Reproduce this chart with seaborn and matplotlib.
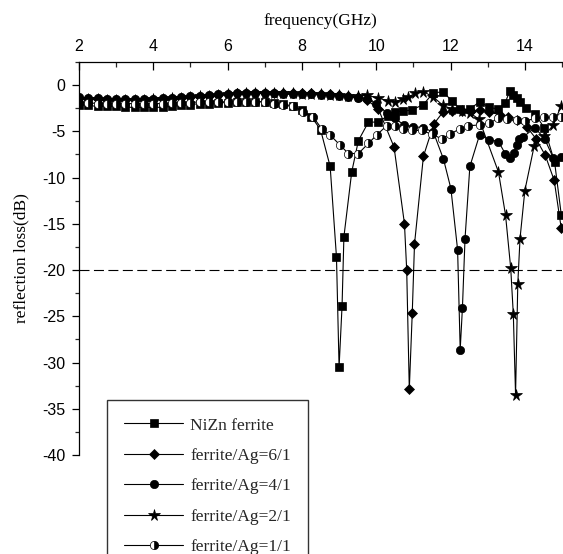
import matplotlib
matplotlib.use("Agg")
import matplotlib.pyplot as plt
from matplotlib.ticker import MultipleLocator
import seaborn as sns

sns.set_theme(style="white")
plt.rcParams['font.family'] = ['Liberation Sans', 'DejaVu Sans']
plt.rcParams['axes.unicode_minus'] = False

# reflection loss (dB) vs frequency (GHz)
low_f = [2.0, 2.25, 2.5, 2.75, 3.0, 3.25, 3.5, 3.75, 4.0, 4.25, 4.5, 4.75, 5.0,
         5.25, 5.5, 5.75, 6.0, 6.25, 6.5, 6.75, 7.0, 7.25, 7.5, 7.75]

nizn_f = low_f + [8.0, 8.25, 8.5, 8.76, 8.93, 9.0, 9.08, 9.13, 9.34, 9.52, 9.79,
                  10.06, 10.31, 10.51, 10.73, 10.95, 11.27, 11.54, 11.81, 12.03,
                  12.26, 12.52, 12.78, 13.04, 13.29, 13.47, 13.6, 13.69, 13.78,
                  13.87, 14.03, 14.27, 14.52, 14.8, 14.98]
nizn_rl = [-2.1, -2.2, -2.3, -2.3, -2.3, -2.4, -2.4, -2.4, -2.4, -2.4, -2.3, -2.2,
           -2.1, -2.0, -2.0, -1.9, -1.9, -1.8, -1.8, -1.8, -1.8, -1.9, -2.0, -2.3,
           -2.7, -3.4, -4.8, -8.8, -18.6, -30.5, -23.9, -16.4, -9.4, -6.0, -4.0,
           -4.0, -3.3, -2.9, -2.8, -2.7, -2.1, -0.8, -0.75, -1.7,
           -2.6, -2.6, -1.8, -2.4, -2.6, -1.9, -0.6, -1.1, -1.4,
           -1.8, -2.5, -3.1, -4.6, -8.3, -14.0]

ag6_f = low_f + [8.0, 8.25, 8.5, 8.75, 9.0, 9.25, 9.5, 9.75, 10.06, 10.48, 10.76,
                 10.82, 10.89, 10.97, 11.03, 11.27, 11.55, 11.8, 12.05, 12.3, 12.55,
                 12.79, 13.04, 13.33, 13.55, 13.78, 14.05, 14.3, 14.55, 14.79, 14.98]
ag6_rl = [-1.4, -1.5, -1.5, -1.6, -1.6, -1.6, -1.6, -1.6, -1.6, -1.5, -1.5, -1.4,
          -1.3, -1.3, -1.2, -1.1, -1.0, -0.9, -0.9, -0.8, -0.8, -0.8, -0.9, -0.9,
          -0.9, -0.9, -1.0, -1.0, -1.1, -1.2, -1.3, -1.6, -2.6, -6.7, -15.0,
          -20.0, -32.9, -24.6, -17.2, -7.7, -4.2, -2.9, -2.8, -2.8, -2.8,
          -2.7, -2.9, -3.2, -3.5, -3.8, -4.5, -5.8, -7.6, -10.3, -15.5]

ag4_f = low_f + [8.0, 8.25, 8.5, 8.75, 9.0, 9.25, 9.5, 9.75, 10.0, 10.28, 10.5,
                 10.75, 11.0, 11.27, 11.54, 11.81, 12.01, 12.19, 12.26, 12.32, 12.39,
                 12.52, 12.78, 13.04, 13.29, 13.47, 13.6, 13.7, 13.78, 13.85, 13.96,
                 14.27, 14.53, 14.77, 14.98]
ag4_rl = [-1.3, -1.4, -1.4, -1.5, -1.5, -1.5, -1.5, -1.5, -1.5, -1.4, -1.4, -1.3,
          -1.2, -1.2, -1.1, -1.0, -1.0, -0.9, -0.9, -0.9, -0.9, -0.9, -1.0, -1.0,
          -1.0, -1.0, -1.1, -1.1, -1.2, -1.3, -1.4, -1.5, -2.0, -3.0, -3.6,
          -4.3, -4.5, -4.6, -5.1, -8.0, -11.2, -17.8, -28.6, -24.1, -16.6,
          -8.8, -5.4, -5.9, -6.1, -7.4, -7.9, -7.3, -6.5, -5.8, -5.6,
          -4.6, -5.8, -7.9, -7.8]

ag2_f = low_f + [8.0, 8.25, 8.5, 8.75, 9.0, 9.25, 9.5, 9.75, 10.06, 10.32, 10.5,
                 10.73, 10.86, 11.04, 11.27, 11.54, 11.8, 12.05, 12.3, 12.52, 12.77,
                 13.29, 13.48, 13.62, 13.69, 13.75, 13.81, 13.87, 14.0, 14.25, 14.52,
                 14.77, 14.97]
ag2_rl = [-1.5, -1.5, -1.5, -1.6, -1.6, -1.6, -1.6, -1.6, -1.5, -1.5, -1.4, -1.4,
          -1.3, -1.2, -1.2, -1.1, -1.0, -1.0, -0.9, -0.9, -0.9, -0.9, -0.9, -0.9,
          -1.0, -1.0, -1.0, -1.1, -1.1, -1.2, -1.2, -1.1, -1.4, -1.7, -1.8,
          -1.5, -1.3, -0.9, -0.7, -1.3, -2.2, -2.6, -2.8, -3.0, -3.7,
          -9.4, -14.05, -19.8, -24.8, -33.5, -21.5, -16.6, -11.4, -6.6, -5.5,
          -4.3, -2.3]

ag1_f = low_f + [8.04, 8.31, 8.53, 8.76, 9.03, 9.25, 9.52, 9.79, 10.01, 10.28,
                 10.5, 10.73, 10.95, 11.22, 11.49, 11.76, 11.99, 12.26, 12.48, 12.79,
                 13.04, 13.29, 13.51, 13.78, 14.0, 14.27, 14.52, 14.77, 14.98]
ag1_rl = [-1.9, -1.9, -2.0, -2.0, -2.0, -2.0, -2.0, -2.0, -2.0, -2.0, -1.9, -1.9,
          -1.9, -1.8, -1.8, -1.8, -1.8, -1.8, -1.8, -1.8, -1.8, -2.0, -2.2, -2.3,
          -2.9, -3.5, -4.7, -5.4, -6.5, -7.4, -7.4, -6.3, -5.4, -4.4,
          -4.4, -4.7, -4.9, -4.9, -5.3, -5.8, -5.3, -4.7, -4.4, -4.3,
          -4.1, -3.6, -3.7, -3.8, -3.9, -3.6, -3.5, -3.5, -3.5]

series = [
    ("NiZn ferrite", nizn_f, nizn_rl, dict(marker='s', markersize=5.3)),
    ("ferrite/Ag=6/1", ag6_f, ag6_rl, dict(marker='D', markersize=5)),
    ("ferrite/Ag=4/1", ag4_f, ag4_rl, dict(marker='o', markersize=6)),
    ("ferrite/Ag=2/1", ag2_f, ag2_rl, dict(marker='*', markersize=8.5)),
    ("ferrite/Ag=1/1", ag1_f, ag1_rl, dict(marker='o', markersize=6,
                                           fillstyle='right',
                                           markerfacecoloralt='white')),
]

fig = plt.figure(figsize=(5.63, 5.54), dpi=100)
ax = fig.add_axes([79 / 563, 1 - 455 / 554, 483 / 563, 393 / 554])

for name, f, rl, style in series:
    sns.lineplot(x=f, y=rl, ax=ax, color='black', lw=0.8, label=name,
                 markeredgecolor='black', markerfacecolor='black',
                 markeredgewidth=0.5, sort=False, **style)

ax.axhline(-20, color='black', lw=0.8, ls=(0, (9, 4)), zorder=0)

ax.set_xlim(2, 15)
ax.set_ylim(-40, 2.5)

ax.xaxis.tick_top()
ax.xaxis.set_label_position('top')
ax.xaxis.set_major_locator(MultipleLocator(2))
ax.xaxis.set_minor_locator(MultipleLocator(1))
ax.yaxis.set_major_locator(MultipleLocator(5))
ax.yaxis.set_minor_locator(MultipleLocator(2.5))

ax.tick_params(axis='x', which='major', direction='in', length=6, width=0.9,
               labelsize=11.5, pad=6, top=True, bottom=False, colors='black')
ax.tick_params(axis='x', which='minor', direction='in', length=3.5, width=0.9,
               top=True, bottom=False)
ax.tick_params(axis='y', which='major', direction='out', length=5, width=0.9,
               labelsize=11.5, pad=5, left=True, colors='black')
ax.tick_params(axis='y', which='minor', direction='out', length=3, width=0.9,
               left=True)

for side in ['right', 'bottom']:
    ax.spines[side].set_visible(False)
for side in ['top', 'left']:
    ax.spines[side].set_color('black')
    ax.spines[side].set_linewidth(0.9)

ax.set_xlabel('frequency(GHz)', family='Liberation Serif', fontsize=12.5,
              labelpad=10, color='black')
ax.set_ylabel('reflection loss(dB)', family='Liberation Serif', fontsize=12.5,
              labelpad=9, color='black')

handles, labels = ax.get_legend_handles_labels()
leg = ax.legend(handles, labels, loc='upper left',
                bbox_to_anchor=(107 / 563, 1 - 400 / 554),
                bbox_transform=fig.transFigure,
                prop={'family': 'Liberation Serif', 'size': 12.5},
                frameon=True, fancybox=False, edgecolor='#333333',
                framealpha=1, handlelength=3.4, handletextpad=0.4,
                labelspacing=0.82, borderpad=1.0, borderaxespad=0)
leg.get_frame().set_linewidth(1.0)

fig.savefig('out.png', dpi=100)
